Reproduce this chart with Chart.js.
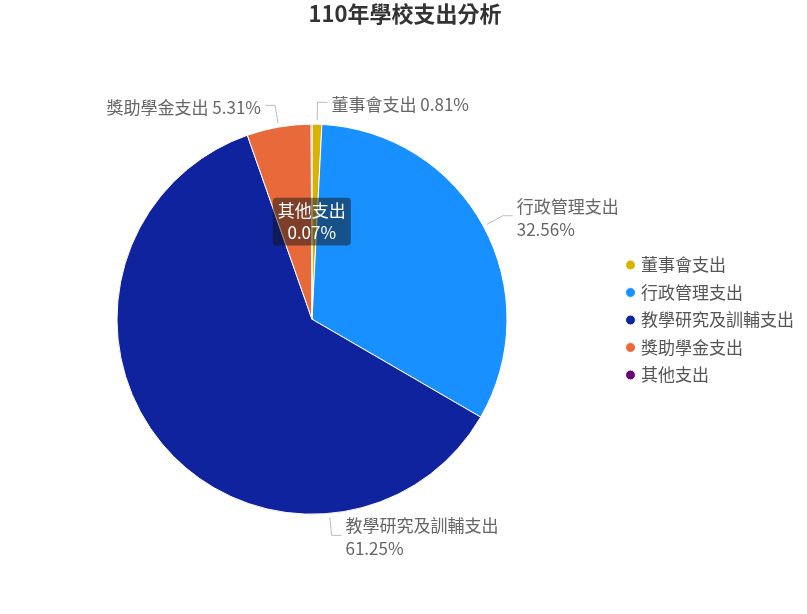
<!DOCTYPE html>
<html lang="zh-Hant">
<head>
<meta charset="UTF-8">
<title>110年學校支出分析</title>
<script src="https://cdn.jsdelivr.net/npm/chart.js"></script>
<style>
    body {
        margin: 0;
        background: #fff;
    }

    .wrap {
        width: 807px;
        height: 614px;
        position: relative;
    }
</style>
</head>
<body>
<div class="wrap">
    <canvas id="costChart"></canvas>
</div>

<script>
    // 支出項目與比例 (%)
    const categories = ['董事會支出', '行政管理支出', '教學研究及訓輔支出', '獎助學金支出', '其他支出'];
    const shares = [0.81, 32.56, 61.25, 5.31, 0.07];
    const sliceColors = ['#d9b300', '#1890ff', '#10239e', '#e8693a', '#670678'];

    const FONT = "'Noto Sans CJK TC', 'Noto Sans', sans-serif";

    // 外側標籤 + 折線
    const outLabels = {
        id: 'outLabels',
        afterDatasetsDraw(chart, args, opts) {
            const ctx = chart.ctx;
            const meta = chart.getDatasetMeta(0);
            ctx.save();
            ctx.font = opts.size + 'px ' + FONT;
            ctx.textBaseline = 'middle';
            meta.data.forEach((arc, i) => {
                const v = shares[i];
                if (v < opts.minShare) return;
                const p = arc.getProps(['x', 'y', 'startAngle', 'endAngle', 'outerRadius'], true);
                let a = (p.startAngle + p.endAngle) / 2;
                // 超過半圓的扇形, 標籤放在下方
                if (p.endAngle - p.startAngle > Math.PI) a = Math.PI / 2 - 0.09;
                const cos = Math.cos(a), sin = Math.sin(a);
                const r0 = p.outerRadius + opts.gap;
                const r1 = r0 + opts.len1;
                const x0 = p.x + r0 * cos, y0 = p.y + r0 * sin;
                const x1 = p.x + r1 * cos, y1 = p.y + r1 * sin;
                const right = cos >= 0;
                const x2 = x1 + (right ? opts.len2 : -opts.len2);

                ctx.strokeStyle = opts.lineColor;
                ctx.lineWidth = 1;
                ctx.beginPath();
                ctx.moveTo(x0, y0);
                ctx.lineTo(x1, y1);
                ctx.lineTo(x2, y1);
                ctx.stroke();

                const name = categories[i];
                const pct = v.toFixed(2) + '%';
                let lines = [name + ' ' + pct];
                if (ctx.measureText(lines[0]).width > opts.maxWidth) lines = [name, pct];

                ctx.fillStyle = opts.color;
                ctx.textAlign = right ? 'left' : 'right';
                const tx = x2 + (right ? opts.textGap : -opts.textGap);
                const top = y1 + 2 - (lines.length - 1) * opts.lineHeight / 2;
                lines.forEach((t, k) => ctx.fillText(t, tx, top + k * opts.lineHeight));
            });
            ctx.restore();
        }
    };

    const chart = new Chart(document.getElementById('costChart'), {
        type: 'pie',
        data: {
            labels: categories,
            datasets: [{
                data: shares,
                backgroundColor: sliceColors,
                borderColor: '#fff',
                borderWidth: 1,
                hoverOffset: 0,
                radius: 195
            }]
        },
        options: {
            responsive: true,
            maintainAspectRatio: false,
            animation: false,
            events: [],
            layout: {
                padding: { left: 6, right: 3, top: 0, bottom: 14 }
            },
            plugins: {
                title: {
                    display: true,
                    text: '110年學校支出分析',
                    color: '#333',
                    font: { family: FONT, size: 22, weight: 'bold' },
                    padding: { top: 0, bottom: 12 }
                },
                legend: {
                    position: 'right',
                    title: {
                        // 空白標題, 只用來把圖例往下推
                        display: true,
                        text: ' ',
                        font: { size: 10 },
                        padding: { top: 14, bottom: 14 }
                    },
                    labels: {
                        usePointStyle: true,
                        pointStyle: 'circle',
                        boxWidth: 4,
                        boxHeight: 7,
                        padding: 10.5,
                        color: '#555',
                        font: { family: FONT, size: 17 }
                    }
                },
                tooltip: {
                    backgroundColor: 'rgba(20, 20, 20, 0.5)',
                    titleColor: '#fff',
                    bodyColor: '#fff',
                    titleFont: { family: FONT, size: 17, weight: 'normal' },
                    bodyFont: { family: FONT, size: 17 },
                    titleAlign: 'center',
                    bodyAlign: 'center',
                    titleMarginBottom: 1,
                    padding: { top: 3, bottom: 3, left: 5, right: 5 },
                    cornerRadius: 4,
                    caretSize: 0,
                    xAlign: 'center',
                    yAlign: 'center',
                    displayColors: false,
                    callbacks: {
                        title: items => items[0].label,
                        label: item => shares[item.dataIndex].toFixed(2) + '%'
                    }
                },
                outLabels: {
                    size: 17,
                    color: '#666',
                    lineColor: '#bbb',
                    gap: 4,
                    len1: 18,
                    len2: 10,
                    textGap: 4,
                    lineHeight: 23,
                    maxWidth: 159,
                    minShare: 0.5
                }
            }
        },
        plugins: [outLabels]
    });

    // 其他支出 的提示框
    chart.tooltip.setActiveElements([{ datasetIndex: 0, index: 4 }], { x: 311, y: 220 });
    chart.update();
</script>
</body>
</html>
